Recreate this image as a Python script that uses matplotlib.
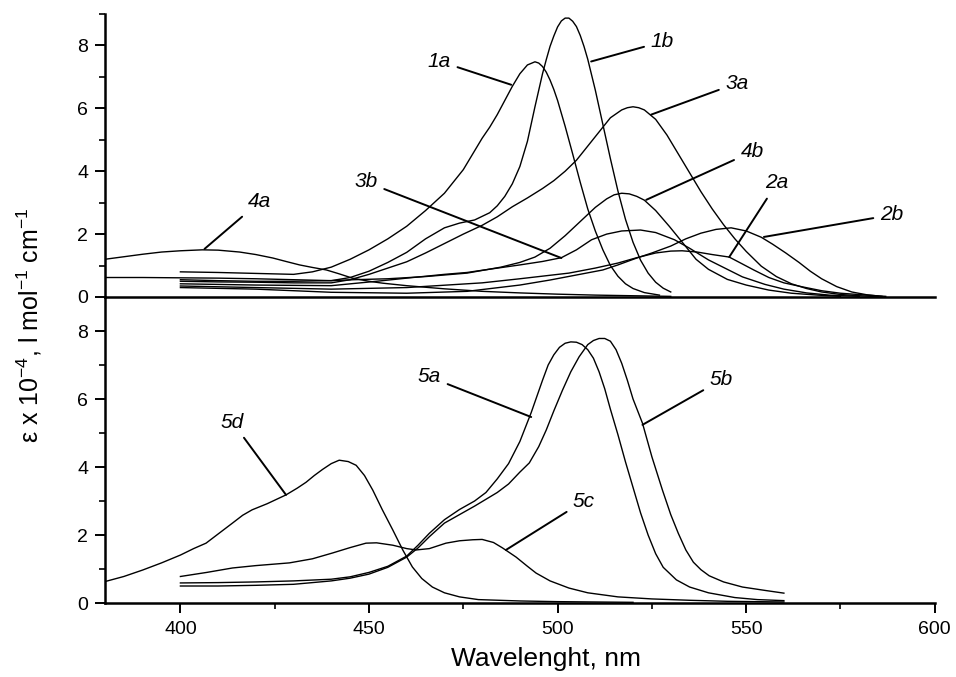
import matplotlib
matplotlib.use('Agg')
import matplotlib.pyplot as plt
from matplotlib.ticker import MultipleLocator

#### data (wavelength in nm, epsilon x 1e-4)
# upper panel
wl_1a = [400, 410, 420, 430, 435, 440, 445, 450, 455, 460, 465, 470, 475, 480, 482, 484, 486, 488, 490,
         492, 494, 495, 496, 497, 498, 499, 500, 502, 504, 506, 508, 510, 512, 514, 516, 518, 520, 523, 527]
eps_1a = [0.80, 0.78, 0.75, 0.72, 0.80, 0.95, 1.20, 1.50, 1.85, 2.25, 2.75, 3.30, 4.05, 5.05, 5.40, 5.80, 6.25, 6.70, 7.10,
          7.38, 7.48, 7.44, 7.33, 7.15, 6.90, 6.60, 6.25, 5.43, 4.55, 3.65, 2.80, 2.10, 1.50, 1.00, 0.66, 0.42, 0.27,
          0.14, 0.06]

wl_1b = [400, 410, 420, 430, 440, 445, 450, 455, 460, 465, 470, 474, 478, 482, 484, 486, 488, 490, 492,
         494, 496, 497, 498, 499, 500, 501, 502, 503, 504, 505, 506, 507, 508, 510, 512, 514, 516, 518,
         520, 522, 524, 526, 528, 530]
eps_1b = [0.55, 0.52, 0.50, 0.50, 0.52, 0.62, 0.82, 1.10, 1.42, 1.85, 2.20, 2.35, 2.45, 2.68, 2.90, 3.20, 3.60, 4.15, 4.95,
          6.05, 7.10, 7.55, 7.97, 8.30, 8.59, 8.78, 8.87, 8.87, 8.77, 8.60, 8.32, 7.97, 7.56, 6.58, 5.49, 4.40, 3.37, 2.47,
          1.74, 1.17, 0.76, 0.47, 0.28, 0.16]

wl_2a = [400, 420, 440, 460, 480, 490, 503, 510, 516, 521, 526, 530, 533, 537, 541, 545.5, 549, 552,
         556, 560, 565, 570, 575, 582, 587]
eps_2a = [0.35, 0.30, 0.25, 0.30, 0.45, 0.58, 0.76, 0.92, 1.08, 1.25, 1.40, 1.46, 1.47, 1.43, 1.35, 1.27, 1.05, 0.86,
          0.62, 0.45, 0.32, 0.20, 0.12, 0.06, 0.02]

wl_2b = [400, 420, 440, 460, 476, 490, 498, 505, 512, 516, 521, 525, 530, 534, 538, 542, 546, 550,
         554, 557, 560.5, 564, 567, 570, 574, 578, 582, 586]
eps_2b = [0.30, 0.25, 0.15, 0.12, 0.18, 0.38, 0.54, 0.70, 0.86, 1.02, 1.24, 1.40, 1.62, 1.85, 2.03, 2.15, 2.20, 2.10,
          1.90, 1.68, 1.40, 1.10, 0.82, 0.58, 0.33, 0.16, 0.07, 0.02]

wl_3a = [400, 410, 420, 430, 440, 445, 450, 455, 460, 465, 470, 475, 480, 484, 488, 492, 496, 499, 502,
         505, 508, 511, 514, 517, 518.5, 520, 521.5, 523, 526, 529, 532, 535, 538, 541, 544, 547, 550,
         554, 558, 562, 566, 570, 575, 580, 585]
eps_3a = [0.50, 0.48, 0.47, 0.45, 0.45, 0.55, 0.72, 0.92, 1.12, 1.40, 1.70, 2.00, 2.28, 2.55, 2.87, 3.15, 3.45, 3.70, 4.00,
          4.35, 4.80, 5.25, 5.70, 5.95, 6.02, 6.05, 6.02, 5.95, 5.65, 5.15, 4.55, 3.95, 3.35, 2.80, 2.30, 1.85, 1.45,
          0.98, 0.65, 0.42, 0.27, 0.16, 0.08, 0.04, 0.01]

wl_3b = [400, 420, 440, 452, 460, 470, 476, 480, 490, 496, 501, 505, 509, 513, 517, 522, 526, 531,
         535, 540, 545, 549, 555, 560, 566, 572, 580]
eps_3b = [0.42, 0.38, 0.36, 0.50, 0.60, 0.72, 0.78, 0.85, 1.02, 1.13, 1.25, 1.50, 1.82, 2.00, 2.10, 2.13, 2.05, 1.82,
          1.55, 1.18, 0.88, 0.64, 0.40, 0.25, 0.13, 0.06, 0.02]

wl_4a = [380, 385, 390, 395, 400, 405.8, 410, 415.7, 420, 424.5, 428, 431.6, 435, 438.7, 442, 445.6,
         450, 453.6, 460, 470, 480, 490, 500, 510, 520, 530]
eps_4a = [1.20, 1.28, 1.36, 1.43, 1.47, 1.50, 1.49, 1.43, 1.35, 1.24, 1.13, 1.02, 0.94, 0.86, 0.74, 0.60,
          0.50, 0.44, 0.36, 0.26, 0.18, 0.13, 0.09, 0.06, 0.04, 0.02]

wl_4b = [380, 390, 400, 410, 420, 430, 440, 446, 455, 465, 476, 485, 490, 494, 498, 502, 506, 510, 513,
         515, 517, 519, 521, 523, 526, 529.6, 533, 536.7, 540, 545, 550, 556, 562, 569, 575]
eps_4b = [0.62, 0.62, 0.61, 0.60, 0.58, 0.55, 0.52, 0.55, 0.58, 0.65, 0.76, 0.95, 1.10, 1.27, 1.55, 1.95, 2.40, 2.85, 3.12,
          3.25, 3.30, 3.28, 3.20, 3.08, 2.75, 2.25, 1.75, 1.20, 0.88, 0.56, 0.38, 0.22, 0.12, 0.06, 0.02]

# lower panel
wl_5a = [400, 410, 420, 430, 440, 445, 450, 455, 460, 463, 466, 470, 474, 478, 481, 484, 487, 490, 493,
         496, 497.5, 499, 500.5, 502, 503.5, 505, 506.5, 508, 509.5, 511, 512.5, 514, 516, 518, 520, 522,
         524, 526, 528, 531.5, 535, 540, 547, 553, 560]
eps_5a = [0.59, 0.60, 0.62, 0.65, 0.70, 0.77, 0.90, 1.08, 1.38, 1.70, 2.05, 2.45, 2.75, 3.00, 3.25, 3.65, 4.10, 4.75, 5.60,
          6.55, 7.00, 7.30, 7.52, 7.64, 7.68, 7.67, 7.60, 7.45, 7.20, 6.80, 6.30, 5.70, 4.95, 4.15, 3.40, 2.65,
          2.00, 1.45, 1.05, 0.68, 0.47, 0.30, 0.16, 0.10, 0.07]

wl_5b = [400, 410, 420, 430, 440, 445, 450, 455, 460, 463, 466, 470, 474, 478, 481, 484, 487, 490, 492.5,
         495, 497, 499, 501.3, 503.5, 505.7, 508, 509.5, 511, 512.5, 514, 515.5, 517, 518.5, 520, 522.5,
         525, 527.8, 530, 532, 534, 536, 538, 540.2, 544, 549, 555, 560]
eps_5b = [0.50, 0.50, 0.52, 0.55, 0.65, 0.73, 0.85, 1.05, 1.35, 1.62, 1.95, 2.35, 2.60, 2.85, 3.05, 3.25, 3.50, 3.85, 4.12,
          4.60, 5.09, 5.65, 6.26, 6.80, 7.24, 7.60, 7.72, 7.78, 7.78, 7.70, 7.45, 7.05, 6.55, 6.00, 5.29,
          4.30, 3.32, 2.60, 2.05, 1.56, 1.20, 0.98, 0.80, 0.62, 0.47, 0.37, 0.29]

wl_5c = [400, 407, 413.8, 420, 428.9, 435, 440.3, 445, 449.2, 452, 456.3, 460, 462.5, 466, 470.4, 474, 477.5,
         480, 483, 485.4, 489, 492, 494.3, 498, 503, 508, 516, 525, 535, 545, 560]
eps_5c = [0.78, 0.90, 1.03, 1.10, 1.18, 1.30, 1.47, 1.63, 1.76, 1.77, 1.70, 1.60, 1.56, 1.60, 1.76, 1.83, 1.86,
          1.87, 1.78, 1.62, 1.35, 1.08, 0.88, 0.65, 0.44, 0.30, 0.18, 0.12, 0.08, 0.05, 0.03]

wl_5d = [380, 385, 390, 395, 400, 403.5, 406.8, 410, 413.8, 416.5, 419, 423, 428, 431, 433.3, 435.5, 437.7,
         440, 442.1, 444.5, 446.6, 448.8, 451, 453.5, 456.3, 459, 461.5, 464, 466.8, 470, 474, 479, 490,
         500, 510, 520]
eps_5d = [0.63, 0.78, 0.97, 1.18, 1.41, 1.60, 1.76, 2.03, 2.35, 2.58, 2.74, 2.92, 3.18, 3.38, 3.55, 3.75, 3.93,
          4.10, 4.20, 4.16, 4.05, 3.75, 3.32, 2.75, 2.15, 1.55, 1.06, 0.72, 0.47, 0.30, 0.18, 0.10, 0.06,
          0.04, 0.03, 0.02]

top_curves = [(wl_1a, eps_1a), (wl_1b, eps_1b), (wl_2a, eps_2a), (wl_2b, eps_2b),
              (wl_3a, eps_3a), (wl_3b, eps_3b), (wl_4a, eps_4a), (wl_4b, eps_4b)]
bottom_curves = [(wl_5a, eps_5a), (wl_5b, eps_5b), (wl_5c, eps_5c), (wl_5d, eps_5d)]

# curve labels: name, text position, point on the curve
top_labels = [('1a', (468.6, 7.50), (487.7, 6.75)),
              ('1b', (527.8, 8.12), (508.9, 7.49)),
              ('3a', (547.6, 6.80), (524.8, 5.80)),
              ('4b', (551.6, 4.62), (523.5, 3.09)),
              ('2a', (558.2, 3.63), (545.5, 1.27)),
              ('2b', (588.6, 2.61), (554.7, 1.91)),
              ('3b', (449.2, 3.66), (501.0, 1.24)),
              ('4a', (421.0, 3.03), (406.4, 1.53))]
bottom_labels = [('5a', (466.0, 6.65), (493.0, 5.47)),
                 ('5b', (543.4, 6.56), (522.5, 5.24)),
                 ('5c', (507.0, 3.00), (486.3, 1.56)),
                 ('5d', (413.8, 5.32), (428.0, 3.18))]


#### plot
plt.rcParams['font.family'] = ['Liberation Sans', 'DejaVu Sans']
plt.rcParams['mathtext.fontset'] = 'custom'
plt.rcParams['mathtext.rm'] = 'Liberation Sans'
fig = plt.figure(figsize=(9.56, 6.77), dpi=100)
ax_top = fig.add_axes([0.1098, 0.5613, 0.868, 0.418])
ax_bot = fig.add_axes([0.1098, 0.1093, 0.868, 0.452])

for ax, curves, labels in [(ax_top, top_curves, top_labels), (ax_bot, bottom_curves, bottom_labels)]:
    for wl, eps in curves:
        ax.plot(wl, eps, color='black', linewidth=1.0)
    for name, txt, pt in labels:
        ax.annotate(name, xy=pt, xytext=txt, fontsize=15, style='italic',
                    ha='center', va='center',
                    arrowprops=dict(arrowstyle='-', color='black', lw=1.4, shrinkA=3, shrinkB=0))

    ax.set_xlim(380, 600)
    ax.set_ylim(0, 9)
    ax.spines['top'].set_visible(False)
    ax.spines['right'].set_visible(False)
    ax.spines['left'].set_linewidth(1.8)
    ax.spines['bottom'].set_linewidth(1.8)
    ax.patch.set_alpha(0)
    ax.yaxis.set_major_locator(MultipleLocator(2))
    ax.yaxis.set_minor_locator(MultipleLocator(1))
    ax.tick_params(axis='y', which='major', direction='out', length=7, width=1.4, labelsize=14, pad=5)
    ax.tick_params(axis='y', which='minor', direction='out', length=4, width=1.2)

# top panel has no x ticks, its bottom spine is the zero line
ax_top.tick_params(axis='x', which='both', bottom=False, labelbottom=False)

ax_bot.xaxis.set_major_locator(MultipleLocator(50))
ax_bot.xaxis.set_minor_locator(MultipleLocator(25))
ax_bot.tick_params(axis='x', which='major', direction='out', length=7, width=1.4, labelsize=14, pad=6)
ax_bot.tick_params(axis='x', which='minor', direction='out', length=4, width=1.2)
# no minor tick at 9 in the lower panel (it sits on the zero line of the upper one)
ax_bot.set_yticks([1, 3, 5, 7], minor=True)

fig.text(0.571, 0.026, 'Wavelenght, nm', fontsize=19, ha='center', va='center')
fig.text(0.031, 0.52, 'ε x 10$^{-4}$, l mol$^{-1}$ cm$^{-1}$', fontsize=18,
         rotation=90, ha='center', va='center')

fig.savefig('out.png', dpi=100)
